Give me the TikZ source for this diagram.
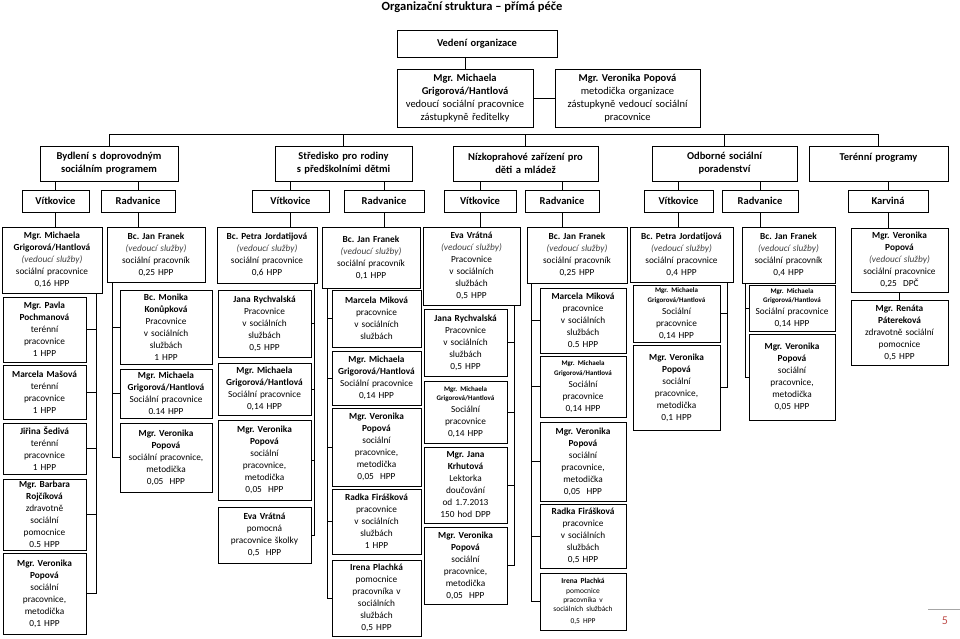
\documentclass[tikz,border=0pt]{standalone}
\usepackage{fontspec}
\setmainfont{Carlito}
\frenchspacing
\definecolor{pgred}{HTML}{C0504D}
\newcommand\nf{\fontsize{9.3}{12}\selectfont}
\newcommand\bigfnt{\fontsize{10.5}{12.8}\selectfont}
\newcommand\smf{\fontsize{7.5}{9.3}\selectfont}
\newcommand\smb[1]{{\fontsize{7}{9.3}\selectfont\bfseries #1\par}}
\newcommand\vsl{\textit{\color{black!75}(vedoucí služby)}}
\newcommand\obox[7][]{%
 \pgfmathsetmacro\bw{#5-#3}%
 \pgfmathsetmacro\bh{#6-#4}%
 \pgfmathsetmacro\tw{#5-#3-4}%
 \pgfmathsetmacro\cx{(#3+#5)/2}%
 \pgfmathsetmacro\cy{(#4+#6)/2}%
 \node[box, minimum width=\bw pt, minimum height=\bh pt, text width=\tw pt, #1] (#2) at (\cx,\cy) {#7};}
\begin{document}
\begin{tikzpicture}[x=1pt,y=-1pt,
 box/.style={draw=black, line width=1pt, inner xsep=1pt, inner ysep=0pt, align=center, font=\nf},
 big/.style={font=\bigfnt},
 conn/.style={draw=black, line width=0.8pt}]
\useasboundingbox (0,0) rectangle (960,638);
\fill[white] (0,0) rectangle (960,638);

\node[font=\fontsize{12.5}{14}\selectfont\bfseries] (title) at (472,7) {Organizační struktura – přímá péče};

\obox[big]{ved}{397}{30}{557}{57}{\bfseries Vedení organizace}
\obox[big]{L}{397}{69}{533}{127}{{\bfseries Mgr. Michaela\\Grigorová/Hantlová}\\vedoucí sociální pracovnice\\zástupkyně ředitelky}
\obox[big]{R}{555}{69}{700}{127}{{\bfseries Mgr. Veronika Popová}\\metodička organizace\\zástupkyně vedoucí sociální\\pracovnice}

\obox[big]{D1}{40}{146}{178}{181}{\bfseries Bydlení s doprovodným\\sociálním programem}
\obox[big]{D2}{275}{146}{412}{181}{\bfseries Středisko pro rodiny\\s předškolními dětmi}
\obox[big]{D3}{453}{146}{598}{181}{\bfseries Nízkoprahové zařízení pro\\děti a mládež}
\obox[big]{D4}{652}{146}{797}{181}{\bfseries Odborné sociální\\poradenství}
\obox[big]{D5}{809}{146}{948}{181}{\bfseries Terénní programy\\\mbox{}}

\obox[big]{V1}{22}{190}{89}{212}{\bfseries Vítkovice}
\obox[big]{R1}{101}{190}{175}{212}{\bfseries Radvanice}
\obox[big]{V2}{252}{190}{329}{212}{\bfseries Vítkovice}
\obox[big]{R2}{344}{190}{424}{212}{\bfseries Radvanice}
\obox[big]{V3}{444}{190}{516}{212}{\bfseries Vítkovice}
\obox[big]{R3}{525}{190}{599}{212}{\bfseries Radvanice}
\obox[big]{V4}{644}{190}{713}{212}{\bfseries Vítkovice}
\obox[big]{R4}{722}{190}{798}{212}{\bfseries Radvanice}
\obox[big]{K}{848}{190}{928}{212}{\bfseries Karviná}

% column 1
\obox{c1h}{2}{227}{102}{293}{{\bfseries Mgr. Michaela\\Grigorová/Hantlová}\\\vsl\\sociální pracovnice\\0,16 HPP}
\obox{c1s1}{3}{297}{86}{362}{{\bfseries Mgr. Pavla\\Pochmanová}\\terénní\\pracovnice\\1 HPP}
\obox{c1s2}{3}{365}{86}{419}{{\bfseries Marcela Mašová}\\terénní\\pracovnice\\1 HPP}
\obox{c1s3}{3}{423}{86}{474}{{\bfseries Jiřina Šedivá}\\terénní\\pracovnice\\1 HPP}
\obox{c1s4}{3}{479}{86}{550}{{\bfseries Mgr. Barbara\\Rojčíková}\\zdravotně\\sociální\\pomocnice\\0.5 HPP}
\obox{c1s5}{3}{553}{86}{634}{{\bfseries Mgr. Veronika\\Popová}\\sociální\\pracovnice,\\metodička\\0,1 HPP}

% column 2
\obox{c2h}{107}{227}{205}{282}{{\bfseries Bc. Jan Franek}\\\vsl\\sociální pracovník\\0,25 HPP}
\obox{c2s1}{120}{290}{212}{364}{{\bfseries Bc. Monika\\Konůpková}\\Pracovnice\\v sociálních\\službách\\1 HPP}
\obox{c2s2}{120}{369}{212}{418}{{\bfseries Mgr. Michaela\\Grigorová/Hantlová}\\Sociální pracovnice\\0.14 HPP}
\obox{c2s3}{120}{423}{212}{492}{{\bfseries Mgr. Veronika\\Popová}\\sociální pracovnice,\\metodička\\0,05~~HPP}

% column 3
\obox{c3h}{217}{227}{317}{283}{{\bfseries Bc. Petra Jordatijová}\\\vsl\\sociální pracovnice\\0,6 HPP}
\obox{c3s1}{218}{290}{311}{357}{{\bfseries Jana Rychvalská}\\Pracovnice\\v sociálních\\službách\\0,5 HPP}
\obox{c3s2}{218}{363}{311}{415}{{\bfseries Mgr. Michaela\\Grigorová/Hantlová}\\Sociální pracovnice\\0,14 HPP}
\obox{c3s3}{218}{420}{311}{500}{{\bfseries Mgr. Veronika\\Popová}\\sociální\\pracovnice,\\metodička\\0,05~~HPP}
\obox{c3s4}{218}{507}{311}{563}{{\bfseries Eva Vrátná}\\pomocná\\pracovnice školky\\0,5~~HPP}

% column 4
\obox{c4h}{322}{227}{420}{288}{{\bfseries Bc. Jan Franek}\\\vsl\\sociální pracovník\\0,1 HPP}
\obox{c4s1}{332}{290}{421}{347}{{\bfseries Marcela Miková}\\pracovnice\\v sociálních\\službách}
\obox{c4s2}{332}{351}{421}{405}{{\bfseries Mgr. Michaela\\Grigorová/Hantlová}\\Sociální pracovnice\\0,14 HPP}
\obox{c4s3}{332}{408}{421}{486}{{\bfseries Mgr. Veronika\\Popová}\\sociální\\pracovnice,\\metodička\\0,05~~HPP}
\obox{c4s4}{332}{489}{421}{554}{{\bfseries Radka Firášková}\\pracovnice\\v sociálních\\službách\\1 HPP}
\obox{c4s5}{332}{560}{421}{636}{{\bfseries Irena Plachká}\\pomocnice\\pracovníka v\\sociálních\\službách\\0,5 HPP}

% column 5
\obox{c5h}{423}{227}{520}{305}{{\bfseries Eva Vrátná}\\\vsl\\Pracovnice\\v sociálních\\službách\\0,5 HPP}
\obox{c5s1}{424}{309}{507}{376}{{\bfseries Jana Rychvalská}\\Pracovnice\\v sociálních\\službách\\0,5 HPP}
\obox{c5s2}{424}{381}{507}{443}{\smb{Mgr. Michaela\\Grigorová/Hantlová}Sociální\\pracovnice\\0,14 HPP}
\obox{c5s3}{424}{447}{507}{523}{{\bfseries Mgr. Jana\\Krhutová}\\Lektorka\\doučování\\od 1.7.2013\\150 hod DPP}
\obox{c5s4}{424}{527}{507}{604}{{\bfseries Mgr. Veronika\\Popová}\\sociální\\pracovnice,\\metodička\\0,05~~HPP}

% column 6
\obox{c6h}{527}{227}{627}{283}{{\bfseries Bc. Jan Franek}\\\vsl\\sociální pracovník\\0,25 HPP}
\obox{c6s1}{540}{288}{626}{353}{{\bfseries Marcela Miková}\\pracovnice\\v sociálních\\službách\\0.5 HPP}
\obox{c6s2}{540}{356}{626}{417}{\smb{Mgr. Michaela\\Grigorová/Hantlová}Sociální\\pracovnice\\0,14 HPP}
\obox{c6s3}{540}{422}{626}{501}{{\bfseries Mgr. Veronika\\Popová}\\sociální\\pracovnice,\\metodička\\0,05~~HPP}
\obox{c6s4}{540}{504}{626}{568}{{\bfseries Radka Firášková}\\pracovnice\\v sociálních\\službách\\0,5 HPP}
\obox{c6s5}{540}{573}{626}{630}{\smf{\bfseries Irena Plachká}\\pomocnice\\pracovníka v\\sociálních službách\\0,5 HPP}

% column 7
\obox{c7h}{630}{227}{733}{282}{{\bfseries Bc. Petra Jordatijová}\\\vsl\\sociální pracovnice\\0,4 HPP}
\obox{c7s1}{633}{285}{720}{342}{\smb{Mgr. Michaela\\Grigorová/Hantlová}Sociální\\pracovnice\\0,14 HPP}
\obox{c7s2}{633}{345}{720}{430}{{\bfseries Mgr. Veronika\\Popová}\\sociální\\pracovnice,\\metodička\\0,1 HPP}

% column 8
\obox{c8h}{742}{227}{835}{283}{{\bfseries Bc. Jan Franek}\\\vsl\\sociální pracovník\\0,4 HPP}
\obox{c8s1}{749}{285}{835}{331}{\smb{Mgr. Michaela\\Grigorová/Hantlová}Sociální pracovnice\\0,14 HPP}
\obox{c8s2}{749}{334}{835}{420}{{\bfseries Mgr. Veronika\\Popová}\\sociální\\pracovnice,\\metodička\\0,05 HPP}

% column 9
\obox{c9h}{851}{228}{948}{292}{{\bfseries Mgr. Veronika\\Popová}\\\vsl\\sociální pracovnice\\0,25~~DPČ}
\obox{c9s1}{851}{300}{948}{365}{{\bfseries Mgr. Renáta\\Pátereková}\\zdravotně sociální\\pomocnice\\0,5 HPP}

% page number
\node[text=pgred, font=\fontsize{12}{14}\selectfont] (pg) at (945,621) {5};
\draw[black!35, line width=0.6pt] (928,609) -- (960,609);

% connectors: top
\draw[conn] (ved.south -| L.north) -- (L.north);
\draw[conn] (L.east) -- (R.west);
\coordinate (busy) at (0,134);
\draw[conn] (D1.north |- busy) -- (D5.north |- busy);
\foreach \d in {1,...,5} \draw[conn] (D\d.north) -- (D\d.north |- busy);
% departments to sites
\draw[conn] (V1.north |- D1.south) -- (V1.north);
\draw[conn] (R1.north |- D1.south) -- (R1.north);
\draw[conn] (V2.north |- D2.south) -- (V2.north);
\draw[conn] (R2.north |- D2.south) -- (R2.north);
\draw[conn] (V3.north |- D3.south) -- (V3.north);
\draw[conn] (R3.north |- D3.south) -- (R3.north);
\draw[conn] (V4.north |- D4.south) -- (V4.north);
\draw[conn] (R4.north |- D4.south) -- (R4.north);
\draw[conn] (K.north |- D5.south) -- (K.north);
% sites to heads
\draw[conn] (V1.south) -- (V1.south |- c1h.north);
\draw[conn] (R1.south) -- (R1.south |- c2h.north);
\draw[conn] (V2.south) -- (V2.south |- c3h.north);
\draw[conn] (R2.south) -- (R2.south |- c4h.north);
\draw[conn] (V3.south) -- (V3.south |- c5h.north);
\draw[conn] (R3.south) -- (R3.south |- c6h.north);
\draw[conn] (V4.south) -- (V4.south |- c7h.north);
\draw[conn] (R4.south) -- (R4.south |- c8h.north);
\draw[conn] (K.south) -- (K.south |- c9h.north);
% heads to staff
\coordinate (c1x) at (96,0);
\foreach \s in {1,...,5} \draw[conn] (c1h.south -| c1x) |- (c1s\s.east);
\coordinate (c2x) at (112,0);
\foreach \s in {1,...,3} \draw[conn] (c2h.south -| c2x) |- (c2s\s.west);
\coordinate (c3x) at (314,0);
\foreach \s in {1,...,4} \draw[conn] (c3h.south -| c3x) |- (c3s\s.east);
\coordinate (c4x) at (327,0);
\foreach \s in {1,...,5} \draw[conn] (c4h.south -| c4x) |- (c4s\s.west);
\coordinate (c5x) at (514,0);
\foreach \s in {1,...,4} \draw[conn] (c5h.south -| c5x) |- (c5s\s.east);
\coordinate (c6x) at (531,0);
\foreach \s in {1,...,5} \draw[conn] (c6h.south -| c6x) |- (c6s\s.west);
\coordinate (c7x) at (727,0);
\foreach \s in {1,2} \draw[conn] (c7h.south -| c7x) |- (c7s\s.east);
\coordinate (c8x) at (745,0);
\foreach \s in {1,2} \draw[conn] (c8h.south -| c8x) |- (c8s\s.west);
\draw[conn] (c9h.south) -- (c9s1.north);
\end{tikzpicture}
\end{document}
